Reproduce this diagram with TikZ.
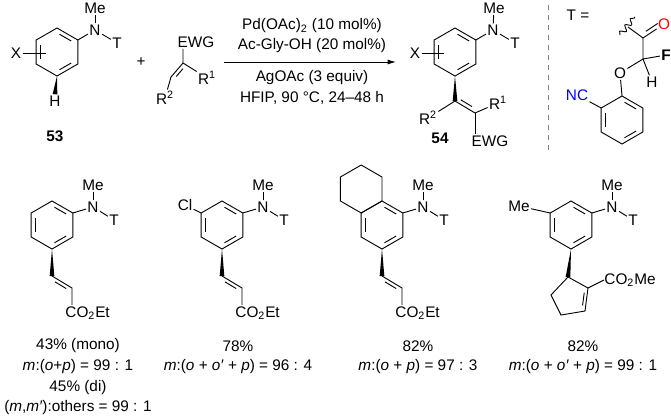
\documentclass[tikz,border=0pt]{standalone}
\usepackage{fontspec}
\setmainfont{Liberation Sans}
\usetikzlibrary{calc,arrows.meta,decorations.pathmorphing}

% hexagon with pointy top, vertices #11 ... #16
\newcommand{\hexring}[2]{%
    \coordinate (#1c) at (#2);
    \coordinate (#11) at ($(#2)+(0,-24)$);
    \coordinate (#12) at ($(#2)+(20.8,-12)$);
    \coordinate (#13) at ($(#2)+(20.8,12)$);
    \coordinate (#14) at ($(#2)+(0,24)$);
    \coordinate (#15) at ($(#2)+(-20.8,12)$);
    \coordinate (#16) at ($(#2)+(-20.8,-12)$);
    \draw (#11) -- (#12) -- (#13) -- (#14) -- (#15) -- (#16) -- cycle;
}
% second line of a double bond, pulled towards #3
\newcommand{\inb}[3]{%
    \coordinate (ip) at ($(#1)!.2!(#3)$);
    \coordinate (iq) at ($(#2)!.2!(#3)$);
    \draw ($(ip)!.15!(iq)$) -- ($(iq)!.15!(ip)$);
}
\newcommand{\arom}[1]{\inb{#16}{#15}{#1c}\inb{#11}{#12}{#1c}\inb{#13}{#14}{#1c}}
% bold wedge from #1 (narrow) to #2 (wide)
\newcommand{\wedgeb}[2]{%
    \fill (#1) -- ($(#2)!1.4pt!90:(#1)$) -- ($(#2)!1.4pt!-90:(#1)$) -- cycle;
}

\begin{document}
\begin{tikzpicture}[
    x=0.6pt, y=-0.6pt,
    line width=0.55pt,
    >=Latex,
    every node/.style={font=\fontsize{9.2}{11}\selectfont, inner sep=1pt},
    lbl/.style={inner sep=0.6pt},
    txt/.style={inner sep=0pt, align=center}
]
    \useasboundingbox (0,0) rectangle (671,417);

    % substrate 53
    \hexring{s}{57,52}
    \arom{s}
    \node[lbl] (sN) at (95,30) {N};
    \node[lbl] (sMe) at (95,8) {Me};
    \node[lbl] (sT) at (117,43) {T};
    \draw (s2) -- (sN);
    \draw (sN) -- (sMe);
    \draw (sN) -- (sT);
    \node[lbl] (sX) at (16,53) {X};
    \draw (sX) -- (46,53);
    \node[lbl] (sH) at (55,101) {H};
    \wedgeb{s4}{sH.north}
    \node[txt, font=\fontsize{9.2}{11}\selectfont\bfseries] (n53) at (55,136) {53};

    \node[txt] (plus) at (141,62) {+};

    % alkene
    \coordinate (e1) at (183,63);
    \coordinate (e2) at (171,77);
    \node[lbl] (eEWG) at (196,42) {EWG};
    \node[lbl] (eR1) at (207,78) {R\textsuperscript{1}};
    \node[lbl] (eR2) at (165,98) {R\textsuperscript{2}};
    \draw (eEWG.south -| e1) -- (e1) -- (eR1);
    \draw (e1) -- (e2) -- (eR2);
    \inb{e1}{e2}{190,83}

    % arrow and conditions
    \coordinate (ar1) at (224,62);
    \coordinate (ar2) at (396,62);
    \draw[-{Latex[length=5pt,width=3pt]}] (ar1) -- (ar2);
    \node[txt] (c1) at (312,26) {Pd(OAc)\textsubscript{2} (10 mol\%)};
    \node[txt] (c2) at (312,46) {Ac-Gly-OH (20 mol\%)};
    \node[txt] (c3) at (312,78) {AgOAc (3 equiv)};
    \node[txt] (c4) at (312,98) {HFIP, 90 °C, 24--48 h};

    % product 54
    \hexring{p}{455,52}
    \arom{p}
    \node[lbl] (pN) at (493,30) {N};
    \node[lbl] (pMe) at (494,8) {Me};
    \node[lbl] (pT) at (515,43) {T};
    \draw (p2) -- (pN);
    \draw (pN) -- (pMe);
    \draw (pN) -- (pT);
    \node[lbl] (pX) at (415,53) {X};
    \draw (pX) -- (444,53);
    \coordinate (pa) at (455,101);
    \coordinate (pb) at (475,113);
    \wedgeb{p4}{pa}
    \draw (pa) -- (pb);
    \inb{pa}{pb}{472,88}
    \node[lbl] (pR2) at (428,118) {R\textsuperscript{2}};
    \node[lbl] (pR1) at (498,103) {R\textsuperscript{1}};
    \node[lbl] (pEWG) at (490,141) {EWG};
    \draw (pa) -- (pR2);
    \draw (pb) -- (pR1);
    \draw (pb) -- (pEWG.north -| pb);
    \node[txt, font=\fontsize{9.2}{11}\selectfont\bfseries] (n54) at (440,138) {54};

    % separator
    \draw[gray, dashed, line width=0.6pt] (548,5) -- (548,150);

    % auxiliary T
    \node[txt] (tEq) at (578,15) {T =};
    \coordinate (tw) at (628,27);
    \coordinate (tc) at (643,38);
    \coordinate (th) at (643,59);
    \node[lbl, red] (tO) at (664,24) {O};
    \node[lbl] (tF) at (666,55) {\bfseries F};
    \node[lbl] (tH) at (652,82) {H};
    \node[lbl] (tOe) at (620,73) {O};
    \draw[decorate, decoration={snake, segment length=5, amplitude=1.6}] (620,35) -- (635,17);
    \draw (tw) -- (tc) -- (th);
    \draw (tc) -- (tO);
    \inb{tc}{tO}{645,13}
    \draw (th) -- (tF);
    \draw (th) -- (tH);
    \draw (th) -- (tOe);
    \hexring{t}{622,120}
    \inb{t1}{t2}{tc}
    \inb{t3}{t4}{tc}
    \inb{t5}{t6}{tc}
    \draw (tOe) -- (t1);
    \node[lbl, blue] (tNC) at (577,95) {NC};
    \draw (t6) -- (tNC);

    % products, bottom row
    \foreach \nm/\cx in {a/52, b/222, c/382, d/571} {
        \hexring{\nm}{\cx,225}
        \arom{\nm}
        \node[lbl] (\nm N) at (\cx+41,207) {N};
        \node[lbl] (\nm Me) at (\cx+41,185) {Me};
        \node[lbl] (\nm T) at (\cx+62,220) {T};
        \draw (\nm2) -- (\nm N);
        \draw (\nm N) -- (\nm Me);
        \draw (\nm N) -- (\nm T);
    }
    % acrylate arms
    \foreach \nm/\cx in {a/52, b/222, c/382} {
        \coordinate (\nm v1) at (\cx,276);
        \coordinate (\nm v2) at (\cx+20,288);
        \coordinate (\nm v3) at (\cx+20,305);
        \wedgeb{\nm4}{\nm v1}
        \draw (\nm v1) -- (\nm v2) -- (\nm v3);
        \inb{\nm v1}{\nm v2}{\cx+3,298}
        \node[txt, anchor=north west] (\nm CO) at (\cx+13,306) {CO\textsubscript{2}Et};
    }
    % chloro
    \node[lbl] (bCl) at (185,205) {Cl};
    \draw (b6) -- (bCl);
    % fused cyclohexane
    \hexring{cc}{361.2,189}
    % cyclopentene
    \node[lbl] (dMe5) at (519,206) {Me};
    \draw (d6) -- (dMe5);
    \coordinate (dq1) at (568,277);
    \coordinate (dq2) at (588,288);
    \coordinate (dq3) at (585,311);
    \coordinate (dq4) at (561,315);
    \coordinate (dq5) at (551,295);
    \coordinate (dqc) at (571,297);
    \wedgeb{d4}{dq1}
    \draw (dq1) -- (dq2) -- (dq3) -- (dq4) -- (dq5) -- cycle;
    \inb{dq2}{dq3}{dqc}
    \node[txt, anchor=west] (dCO) at (604,280) {CO\textsubscript{2}Me};
    \draw (dq2) -- (dCO.west);

    % yields
    \node[txt] (ya) at (78,346) {43\% (mono)};
    \node[txt] (ya2) at (78,367) {\textit{m}:(\textit{o}+\textit{p}) = 99 : 1};
    \node[txt] (ya3) at (78,388) {45\% (di)};
    \node[txt] (ya4) at (78,408) {(\textit{m},\textit{m′}):others = 99 : 1};
    \node[txt] (yb) at (238,346) {78\%};
    \node[txt] (yb2) at (238,367) {\textit{m}:(\textit{o} + \textit{o′} + \textit{p}) = 96 : 4};
    \node[txt] (yc) at (418,346) {82\%};
    \node[txt] (yc2) at (418,367) {\textit{m}:(\textit{o} + \textit{p}) = 97 : 3};
    \node[txt] (yd) at (583,346) {82\%};
    \node[txt] (yd2) at (583,367) {\textit{m}:(\textit{o} + \textit{o′} + \textit{p}) = 99 : 1};
\end{tikzpicture}
\end{document}
